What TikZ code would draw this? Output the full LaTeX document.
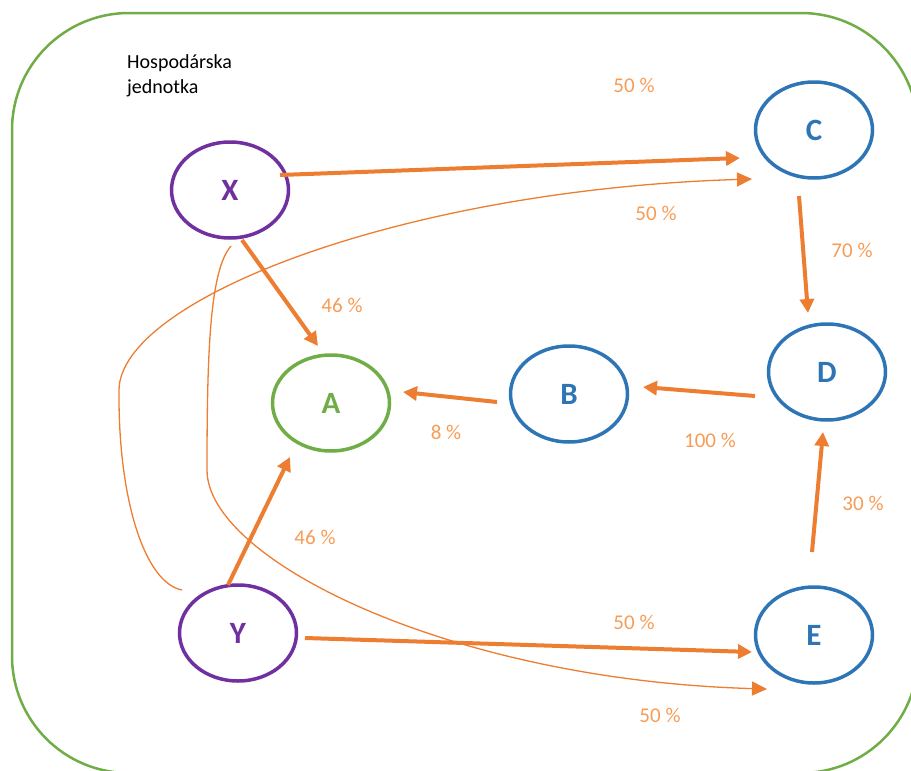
\documentclass[tikz,border=0pt]{standalone}
\usepackage{fontspec}
\setmainfont{Carlito}
\usetikzlibrary{arrows.meta,shapes.geometric,calc}
\definecolor{arrorange}{HTML}{ED7D31}
\definecolor{txtorange}{RGB}{246,156,86}
\definecolor{nodeblue}{HTML}{2E75B6}
\definecolor{nodepurple}{HTML}{7030A0}
\definecolor{nodegreen}{HTML}{70AD47}
\begin{document}
\begin{tikzpicture}[x=1pt,y=-1pt,
  ell/.style={ellipse, draw, line width=3.5pt, inner sep=0pt,
    minimum width=117pt, minimum height=96pt,
    font=\fontsize{31}{31}\selectfont\bfseries},
  bigarr/.style={draw=arrorange, line width=4pt, -{Triangle[length=14pt,width=14pt]}},
  thinarr/.style={draw=arrorange, line width=1.3pt, -{Triangle[length=15pt,width=14pt]}},
  pct/.style={text=txtorange, inner sep=0pt, font=\fontsize{21}{21}\selectfont}]
\useasboundingbox (0,0) rectangle (911,771);
\clip (0,0) rectangle (911,771);

% frame
\draw[nodegreen, line width=2.5pt, rounded corners=117pt] (12,13) rectangle (918,773);

\node[anchor=north west, align=left, inner sep=0pt,
  font=\fontsize{20}{25}\selectfont] (title) at (127,54) {Hospodárska\\jednotka};

% nodes
\node[ell, draw=nodepurple, text=nodepurple] (X) at (230,190) {X};
\node[ell, draw=nodepurple, text=nodepurple] (Y) at (238,633) {Y};
\node[ell, draw=nodegreen, text=nodegreen] (A) at (331,403) {A};
\node[ell, draw=nodeblue, text=nodeblue] (B) at (569,394) {B};
\node[ell, draw=nodeblue, text=nodeblue] (C) at (814,130) {C};
\node[ell, draw=nodeblue, text=nodeblue] (D) at (827,372) {D};
\node[ell, draw=nodeblue, text=nodeblue] (E) at (814,635) {E};

% thick arrows
\draw[bigarr] ($(X)+(50,-15)$) -- ($(C)+(-74,28)$);
\draw[bigarr] ($(X)+(12,50)$) -- ($(A)+(-13,-57)$);
\draw[bigarr] ($(Y)+(-10,-48)$) -- ($(A)+(-41,54)$);
\draw[bigarr] ($(Y)+(67,5)$) -- ($(E)+(-62,17)$);
\draw[bigarr] ($(C)+(-15,66)$) -- ($(D)+(-19,-59)$);
\draw[bigarr] ($(E)+(-2,-83)$) -- ($(D)+(-4,60)$);
\draw[bigarr] ($(D)+(-72,24)$) -- ($(B)+(74,-7)$);
\draw[bigarr] ($(B)+(-72,8)$) -- ($(A)+(72,-11)$);

% thin curved arrows
\draw[thinarr] ($(Y)+(-56,-43)$) .. controls (145,583) and (118,500) .. (119,390)
  .. controls (120,300) and (400,190) .. ($(C)+(-62,49)$);
\draw[thinarr] ($(X)+(1,56)$) .. controls (210,270) and (207,350) .. (207,470)
  .. controls (207,560) and (450,680) .. ($(E)+(-47,54)$);

% percentages
\node[pct] (p1) at (634,85) {50 \%};
\node[pct] (p2) at (656,213) {50 \%};
\node[pct] (p3) at (852,250) {70 \%};
\node[pct] (p4) at (342,305) {46 \%};
\node[pct] (p5) at (446,432) {8 \%};
\node[pct] (p6) at (710,440) {100 \%};
\node[pct] (p7) at (863,503) {30 \%};
\node[pct] (p8) at (315,537) {46 \%};
\node[pct] (p9) at (634,622) {50 \%};
\node[pct] (p10) at (660,715) {50 \%};
\end{tikzpicture}
\end{document}
